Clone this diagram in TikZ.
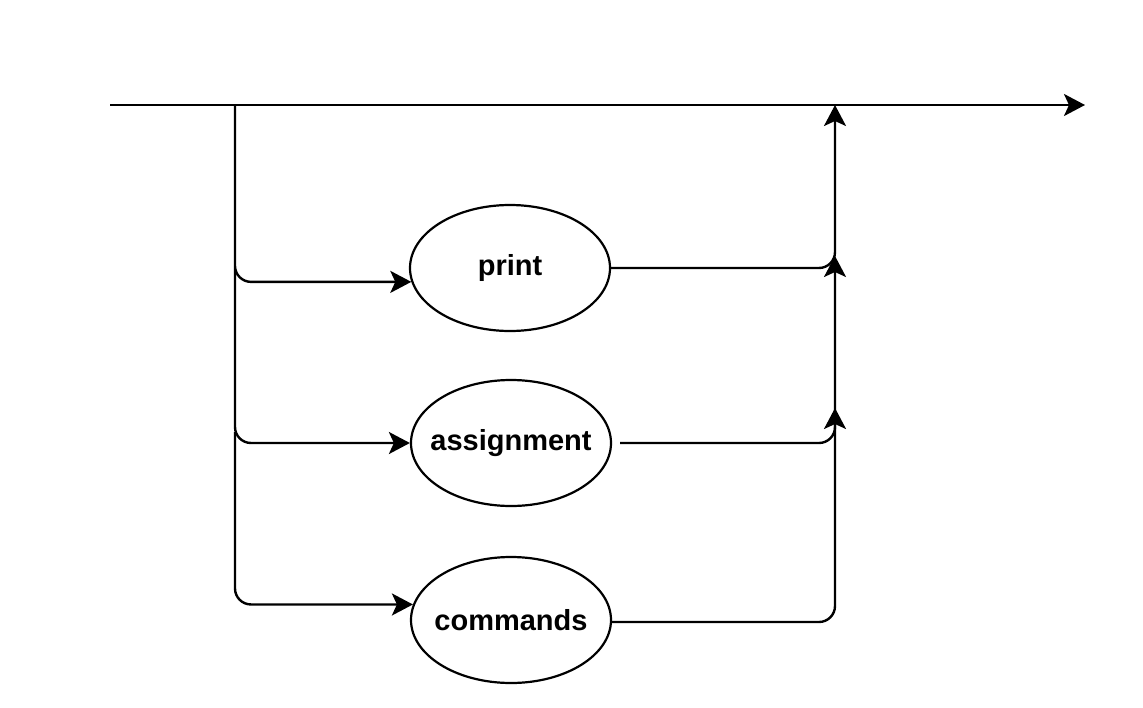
\documentclass[tikz,border=0pt]{standalone}
\usepackage{fontspec}
\setmainfont{Liberation Sans}
\usetikzlibrary{arrows.meta,shapes.geometric}
\begin{document}
\begin{tikzpicture}[x=1pt,y=-1pt,
  line width=2.4pt,
  arr/.style={-{Stealth[length=21pt,width=22pt,inset=5pt]}},
  term/.style={draw,ellipse,line width=2.2pt,minimum width=200pt,minimum height=126pt,inner sep=0pt,font=\fontsize{29}{34}\selectfont\bfseries},
  conn/.style={arr,rounded corners=16pt}]
\useasboundingbox (0,0) rectangle (1143,707);
\node[term] (print) at (510,268) {\makebox[0pt]{print}};
\node[term] (assign) at (511,443) {\makebox[0pt]{assignment}};
\node[term] (cmds) at (511,620) {\makebox[0pt]{commands}};
\coordinate (s) at (110,105);
\coordinate (e) at (1085,105);
\coordinate (b0) at (235,105);
\coordinate (b1) at (235,268);
\coordinate (b2) at (235,432);
\coordinate (m0) at (835,105);
\coordinate (m1) at (835,256);
\coordinate (m2) at (835,408);
\draw[arr] (s) -- (e);
\draw[conn] (b0) |- (print.188);
\draw[conn] (b1) |- (assign.west);
\draw[conn] (b2) |- (cmds.171);
\draw[conn] (print.east) -| (m0);
\draw[conn] ([xshift=8pt]assign.east) -| (m1);
\draw[conn] ([yshift=-2pt]cmds.east) -| (m2);
\end{tikzpicture}
\end{document}
